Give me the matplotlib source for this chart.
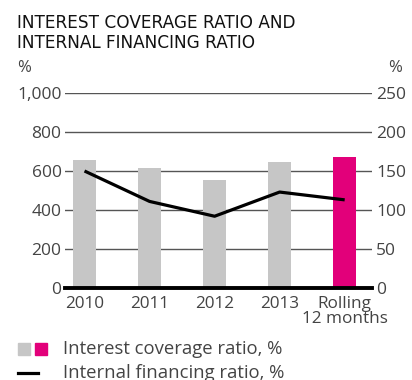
import matplotlib
matplotlib.use("Agg")
import matplotlib.pyplot as plt
from matplotlib.patches import Rectangle
from matplotlib.lines import Line2D

# data
categories = ["2010", "2011", "2012", "2013", "Rolling\n12 months"]
interest_coverage = [656, 615, 554, 646, 672]
internal_financing = [150, 111, 92, 123, 113]
bar_colors = ["#c6c6c6", "#c6c6c6", "#c6c6c6", "#c6c6c6", "#e2007a"]

left_ticks = [0, 200, 400, 600, 800, 1000]
right_ticks = [0, 50, 100, 150, 200, 250]

text_col = "#444444"
plt.rcParams["font.family"] = ["Open Sans", "DejaVu Sans"]

fig = plt.figure(figsize=(4.12, 3.80), dpi=100)
ax = fig.add_axes([65 / 412, 1 - 288 / 380, 307 / 412, 195 / 380])
ax2 = ax.twinx()

x = list(range(len(categories)))
ax.bar(x, interest_coverage, width=0.35, color=bar_colors, zorder=2)
ax2.plot(x, internal_financing, color="black", lw=2.3, zorder=3, solid_capstyle="butt")

ax.set_xlim(-0.3, 4.42)
ax.set_ylim(0, 1000)
ax2.set_ylim(0, 250)

# grid lines
for t in left_ticks[1:]:
    ax.axhline(t, color="#555555", lw=1.0, zorder=1)
ax.axhline(0, color="black", lw=2.8, zorder=4, clip_on=False)

for a in (ax, ax2):
    for s in a.spines.values():
        s.set_visible(False)

ax.set_yticks(left_ticks)
ax.set_yticklabels([f"{t:,}" for t in left_ticks])
ax2.set_yticks(right_ticks)
ax.tick_params(axis="y", length=0, pad=2.5, labelsize=12.5, labelcolor=text_col)
ax2.tick_params(axis="y", length=0, pad=3, labelsize=12.5, labelcolor=text_col)
ax.set_xticks(x)
ax.set_xticklabels(categories, fontsize=12.3, color=text_col, linespacing=0.95)
ax.tick_params(axis="x", length=0, pad=5.5)

# title and unit labels
fig.text(17 / 412, 1 - 28.5 / 380, "INTEREST COVERAGE RATIO AND", family="DejaVu Sans",
         fontsize=12.2, color="#111111", va="baseline")
fig.text(17 / 412, 1 - 47.5 / 380, "INTERNAL FINANCING RATIO", family="DejaVu Sans",
         fontsize=12.2, color="#111111", va="baseline")
fig.text(17 / 412, 1 - 60 / 380, "%", fontsize=12, color=text_col, va="top")
fig.text(402 / 412, 1 - 60 / 380, "%", fontsize=12, color=text_col, va="top", ha="right")

# legend drawn by hand
fig.add_artist(Rectangle((18 / 412, 1 - 355 / 380), 12 / 412, 12 / 380,
                         color="#c6c6c6", transform=fig.transFigure))
fig.add_artist(Rectangle((35 / 412, 1 - 355 / 380), 12 / 412, 12 / 380,
                         color="#e2007a", transform=fig.transFigure))
fig.add_artist(Line2D([18 / 412, 38 / 412], [1 - 373 / 380] * 2, color="black", lw=2.3,
                      transform=fig.transFigure))
fig.text(63 / 412, 1 - 349 / 380, "Interest coverage ratio, %", fontsize=13.3,
         color=text_col, va="center")
fig.text(63 / 412, 1 - 373 / 380, "Internal financing ratio, %", fontsize=13.3,
         color=text_col, va="center")

fig.savefig("out.png", dpi=100)
